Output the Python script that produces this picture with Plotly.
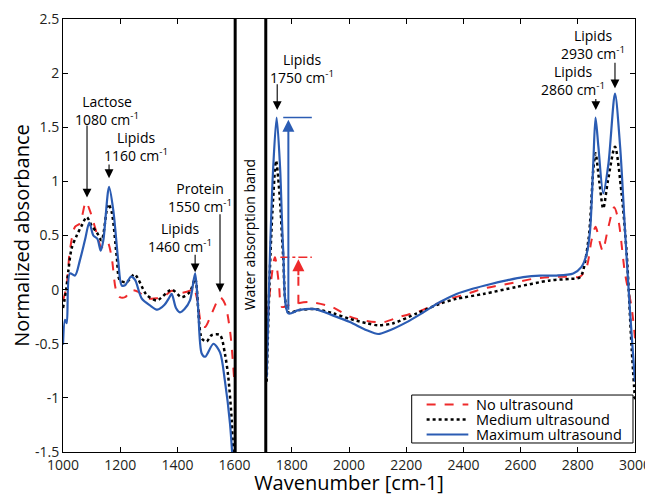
import plotly.graph_objects as go

# ---------------- data ----------------
no_left_x = [1000, 1012, 1024, 1042, 1059, 1080, 1094, 1118, 1135, 1155, 1170, 1185, 1199, 1217, 1240, 1263, 1293, 1328, 1360, 1380, 1410, 1444, 1456, 1470, 1485, 1497, 1520, 1549, 1566, 1584, 1598]
no_left_y = [-0.10, 0.02, 0.36, 0.58, 0.61, 0.81, 0.73, 0.52, 0.39, 0.44, 0.30, 0.0, -0.07, -0.07, -0.005, -0.02, -0.08, -0.08, -0.05, -0.01, -0.03, -0.01, 0.02, -0.10, -0.33, -0.345, -0.22, -0.07, -0.13, -0.38, -0.81]
no_right_x = [1712, 1725, 1741, 1755, 1765, 1788, 1858, 1940, 2003, 2062, 2120, 2178, 2237, 2295, 2353, 2412, 2470, 2528, 2586, 2644, 2703, 2761, 2808, 2831, 2848, 2862, 2878, 2887, 2907, 2927, 2942, 2965, 2988, 3000]
no_right_y = [-0.40, 0.02, 0.30, 0.05, -0.16, -0.145, -0.115, -0.16, -0.25, -0.29, -0.30, -0.25, -0.21, -0.145, -0.085, -0.04, 0.01, 0.04, 0.07, 0.10, 0.115, 0.12, 0.12, 0.21, 0.455, 0.58, 0.425, 0.36, 0.58, 0.76, 0.64, 0.15, -0.16, -0.45]

med_left_x = [1000, 1010, 1019, 1030, 1048, 1065, 1083, 1100, 1118, 1135, 1158, 1170, 1188, 1199, 1223, 1250, 1293, 1328, 1380, 1415, 1444, 1462, 1485, 1502, 1520, 1549, 1566, 1578, 1590, 1596]
med_left_y = [-0.17, -0.02, 0.18, 0.38, 0.50, 0.59, 0.67, 0.59, 0.53, 0.455, 0.79, 0.72, 0.30, 0.085, 0.07, 0.14, -0.05, -0.10, 0.0, -0.07, -0.02, 0.10, -0.45, -0.48, -0.42, -0.42, -0.59, -0.81, -1.21, -1.6]
med_right_x = [1712, 1725, 1735, 1745, 1758, 1770, 1788, 1823, 1881, 1945, 2003, 2062, 2102, 2155, 2237, 2318, 2376, 2470, 2586, 2703, 2773, 2808, 2837, 2854, 2862, 2875, 2889, 2905, 2930, 2953, 2971, 2988, 3000]
med_right_y = [-0.85, 0.30, 0.85, 1.19, 0.85, 0.30, -0.21, -0.19, -0.18, -0.22, -0.27, -0.31, -0.33, -0.31, -0.22, -0.13, -0.085, -0.04, 0.025, 0.085, 0.10, 0.115, 0.455, 1.10, 1.26, 1.00, 0.75, 1.00, 1.32, 0.89, 0.33, -0.53, -1.02]

max_left_x = [1000, 1007, 1013, 1024, 1042, 1059, 1077, 1092, 1106, 1120, 1132, 1141, 1161, 1176, 1193, 1205, 1217, 1238, 1252, 1275, 1304, 1330, 1355, 1370, 1380, 1395, 1409, 1425, 1444, 1462, 1472, 1485, 1497, 1526, 1549, 1566, 1584, 1596]
max_left_y = [-0.51, -0.28, -0.31, 0.15, 0.13, 0.27, 0.46, 0.62, 0.50, 0.47, 0.36, 0.455, 0.95, 0.73, 0.27, 0.04, 0.04, 0.12, 0.09, -0.08, -0.145, -0.185, -0.14, -0.08, -0.04, -0.17, -0.21, -0.18, -0.10, 0.15, -0.15, -0.59, -0.62, -0.50, -0.58, -0.84, -1.24, -1.7]
max_right_x = [1712, 1724, 1735, 1747, 1759, 1770, 1788, 1823, 1881, 1945, 2003, 2062, 2102, 2143, 2202, 2260, 2318, 2376, 2435, 2493, 2551, 2609, 2668, 2726, 2784, 2813, 2831, 2843, 2854, 2862, 2872, 2889, 2907, 2930, 2948, 2965, 2983, 3000]
max_right_y = [-0.81, 0.36, 1.13, 1.59, 1.13, 0.36, -0.22, -0.19, -0.18, -0.24, -0.30, -0.375, -0.41, -0.375, -0.30, -0.21, -0.115, -0.04, 0.01, 0.05, 0.085, 0.115, 0.13, 0.13, 0.15, 0.21, 0.33, 0.55, 1.16, 1.59, 1.32, 0.89, 1.16, 1.81, 1.32, 0.55, -0.22, -0.85]

series_names = ["No ultrasound", "Medium ultrasound", "Maximum ultrasound"]
x_ticks = [1000, 1200, 1400, 1600, 1800, 2000, 2200, 2400, 2600, 2800, 3000]
y_ticks = [-1.5, -1, -0.5, 0, 0.5, 1, 1.5, 2, 2.5]
y_tick_labels = ["-1.5", "-1", "-0.5", "0", "0.5", "1", "1.5", "2", "2.5"]

water_band = [1602, 1709]
# (name, wavenumber label, arrow x, arrow tip y, arrow tail y, text x, text centre y)
peak_labels = [
    ("Lactose", "1080", 1084, 0.85, 1.53, 1153, 1.655),
    ("Lipids", "1160", 1161, 1.03, 1.17, 1255, 1.32),
    ("Lipids", "1460", 1462, 0.16, 0.335, 1409, 0.48),
    ("Protein", "1550", 1549, -0.025, 0.71, 1479, 0.85),
    ("Lipids", "1750", 1749, 1.66, 1.91, 1836, 2.04),
    ("Lipids", "2860", 2863, 1.66, 1.775, 2783, 1.93),
    ("Lipids", "2930", 2930, 1.86, 2.11, 2853, 2.26),
]

RED = "#ee2a2b"
BLUE = "#2b5cb3"
BLACK = "#000000"
FONT = "Open Sans"

fig = go.Figure()

def add_series(xl, yl, xr, yr, name, color, dash, width):
    fig.add_trace(go.Scatter(
        x=xl + [None] + xr, y=yl + [None] + yr, name=name, mode="lines",
        line=dict(color=color, dash=dash, width=width, shape="spline", smoothing=0.8),
        connectgaps=False, showlegend=False))

styles = [(RED, "dash", 2), (BLACK, "dot", 2.5), (BLUE, "solid", 2.2)]
add_series(no_left_x, no_left_y, no_right_x, no_right_y, series_names[0], *styles[0])
add_series(med_left_x, med_left_y, med_right_x, med_right_y, series_names[1], *styles[1])
add_series(max_left_x, max_left_y, max_right_x, max_right_y, series_names[2], *styles[2])

# water absorption band borders
for wx in water_band:
    fig.add_shape(type="line", xref="x", yref="paper", x0=wx, x1=wx, y0=0, y1=1,
                  line=dict(color=BLACK, width=3))
fig.add_annotation(x=(water_band[0] + water_band[1]) / 2 - 2, y=0.51, xref="x", yref="y",
                   text="Water absorption band", textangle=-90, showarrow=False,
                   font=dict(family=FONT, size=14, color=BLACK))

# peak labels and arrows
for name, wn, px, tip, tail, tx, ty in peak_labels:
    fig.add_annotation(x=px, y=tip, ax=px, ay=tail, xref="x", yref="y", axref="x", ayref="y",
                       text="", showarrow=True, arrowhead=2, arrowsize=1.6, arrowwidth=1.1,
                       arrowcolor=BLACK)
    fig.add_annotation(x=tx, y=ty, xref="x", yref="y", yanchor="middle", showarrow=False,
                       text=f"{name}<br>{wn} cm<sup>-1</sup>",
                       font=dict(family=FONT, size=14, color=BLACK))

# blue increase arrow
fig.add_annotation(x=1788, y=1.57, ax=1788, ay=-0.2, xref="x", yref="y", axref="x", ayref="y",
                   text="", showarrow=True, arrowhead=2, arrowsize=1.2, arrowwidth=2,
                   arrowcolor=BLUE)
fig.add_shape(type="line", xref="x", yref="y", x0=1770, x1=1870, y0=1.59, y1=1.59,
              line=dict(color=BLUE, width=1.5))
# red increase arrow (dashed)
fig.add_shape(type="line", xref="x", yref="y", x0=1823, x1=1823, y0=-0.13, y1=0.17,
              line=dict(color=RED, width=2, dash="dash"))
fig.add_annotation(x=1823, y=0.28, ax=1823, ay=0.12, xref="x", yref="y", axref="x", ayref="y",
                   text="", showarrow=True, arrowhead=2, arrowsize=1.2, arrowwidth=2,
                   arrowcolor=RED)
fig.add_shape(type="line", xref="x", yref="y", x0=1760, x1=1870, y0=0.30, y1=0.30,
              line=dict(color=RED, width=1.5, dash="dashdot"))

# legend box (drawn manually to match the compact spacing)
fig.add_shape(type="rect", xref="paper", yref="paper", x0=0.6096, x1=0.9965, y0=0.0208, y1=0.1316,
              line=dict(color=BLACK, width=1), fillcolor="white", layer="above")
row_y = [0.1097, 0.0751, 0.0404]
for (color, dash, width), name, ry in zip(styles, series_names, row_y):
    fig.add_shape(type="line", xref="paper", yref="paper", x0=0.6357, x1=0.7086, y0=ry, y1=ry,
                  line=dict(color=color, dash=dash, width=width), layer="above")
    fig.add_annotation(x=0.7185, y=ry, xref="paper", yref="paper", xanchor="left", yanchor="middle",
                       text=name, showarrow=False, font=dict(family=FONT, size=14.5, color=BLACK))

axis_common = dict(showline=True, linecolor=BLACK, linewidth=1, mirror="ticks",
                   ticks="inside", ticklen=5, tickcolor=BLACK, showgrid=False, zeroline=False,
                   automargin=False,
                   tickfont=dict(family=FONT, size=14, color="#231f20"))

fig.update_xaxes(range=[1000, 3000], tickvals=x_ticks, **axis_common,
                 title=dict(text="Wavenumber [cm-1]", font=dict(family=FONT, size=20, color=BLACK),
                            standoff=4))
fig.update_yaxes(range=[-1.5, 2.5], tickvals=y_ticks, ticktext=y_tick_labels, **axis_common,
                 title=dict(text="Normalized absorbance", font=dict(family=FONT, size=20, color=BLACK),
                            standoff=7))

# the page adds an 8 px body margin, so the figure is 16 px smaller and margins shifted
fig.update_layout(
    width=645, height=488,
    margin=dict(l=55, r=18, t=11, b=44),
    plot_bgcolor="white", paper_bgcolor="white",
    font=dict(family=FONT, color=BLACK),
    showlegend=False,
)

fig.write_html("out.html")
